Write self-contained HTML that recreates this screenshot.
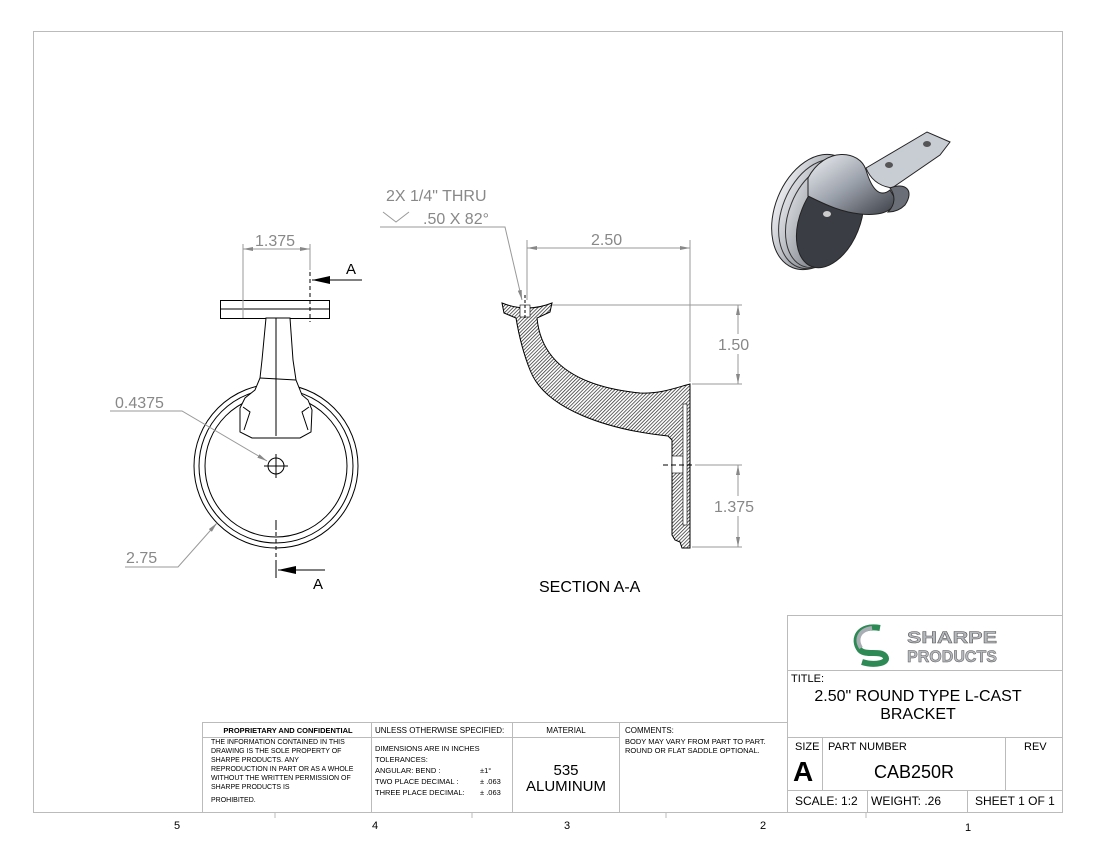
<!DOCTYPE html>
<html><head><meta charset="utf-8"><style>
html,body{margin:0;padding:0;background:#fff}
svg{display:block}
text{font-family:"Liberation Sans",sans-serif}
</style></head><body>
<svg width="1100" height="850" viewBox="0 0 1100 850" xmlns="http://www.w3.org/2000/svg">
<defs>
<pattern id="h" width="2.5" height="2.5" patternUnits="userSpaceOnUse" patternTransform="rotate(45)">
<rect width="2.5" height="2.5" fill="#fff"/><line x1="0" y1="0" x2="0" y2="2.5" stroke="#222" stroke-width="1.4"/></pattern>
<linearGradient id="g1" x1="0" y1="0" x2="1" y2="1"><stop offset="0" stop-color="#f0f2f5"/><stop offset="0.5" stop-color="#9aa0aa"/><stop offset="1" stop-color="#3a3d44"/></linearGradient>
<linearGradient id="g2" x1="0" y1="0" x2="1" y2="0"><stop offset="0" stop-color="#e8eaee"/><stop offset="1" stop-color="#5b6068"/></linearGradient>
<marker id="a" viewBox="0 0 10 4" refX="10" refY="2" markerWidth="10" markerHeight="4" orient="auto-start-reverse" markerUnits="userSpaceOnUse"><path d="M0,0L10,2L0,4z" fill="#888"/></marker>
<marker id="ab" viewBox="0 0 18 8" refX="18" refY="4" markerWidth="18" markerHeight="8" orient="auto" markerUnits="userSpaceOnUse"><path d="M0,0L18,4L0,8z" fill="#000"/></marker>
</defs>
<rect x="33.5" y="31.5" width="1029" height="781" fill="none" stroke="#bbb"/>
<g stroke="#bbb"><line x1="275" y1="812" x2="275" y2="818"/><line x1="472" y1="812" x2="472" y2="818"/><line x1="666" y1="812" x2="666" y2="818"/><line x1="866" y1="812" x2="866" y2="818"/></g>
<g font-size="11" text-anchor="middle" fill="#000"><text x="177" y="829">5</text><text x="375" y="829">4</text><text x="567" y="829">3</text><text x="763" y="829">2</text><text x="968" y="831">1</text></g>

<g fill="none" stroke="#bbb">
<rect x="787.5" y="615.5" width="275" height="197"/>
<line x1="787" y1="670.5" x2="1062" y2="670.5"/>
<line x1="787" y1="737.5" x2="1062" y2="737.5"/>
<line x1="787" y1="790.5" x2="1062" y2="790.5"/>
<line x1="822.5" y1="737" x2="822.5" y2="790"/>
<line x1="1005.5" y1="737" x2="1005.5" y2="790"/>
<line x1="867.5" y1="790" x2="867.5" y2="812"/>
<line x1="967.5" y1="790" x2="967.5" y2="812"/>
<rect x="202.5" y="722.5" width="585" height="90"/>
<line x1="202" y1="737.5" x2="619" y2="737.5"/>
<line x1="371.5" y1="722" x2="371.5" y2="812"/>
<line x1="512.5" y1="722" x2="512.5" y2="812"/>
<line x1="619.5" y1="722" x2="619.5" y2="812"/>
</g>
<path d="M880,628 C858,624 852,640 860,650 C866,656 880,650 885,656 C890,663 875,666 862,662" fill="none" stroke="#2e8a55" stroke-width="6"/>
<path d="M872,628 C858,630 856,640 861,648" fill="none" stroke="#a8aeb4" stroke-width="4"/>
<g font-family="Liberation Sans" font-weight="bold" fill="#b5b8bc" stroke="#555" stroke-width="0.5" text-anchor="middle">
<text x="952" y="643" font-size="17" textLength="90" lengthAdjust="spacingAndGlyphs">SHARPE</text>
<text x="952" y="662" font-size="17" textLength="90" lengthAdjust="spacingAndGlyphs">PRODUCTS</text></g>
<g fill="#000">
<text x="791" y="682" font-size="11">TITLE:</text>
<text x="918" y="701" font-size="16" text-anchor="middle">2.50" ROUND TYPE L-CAST</text>
<text x="918" y="719" font-size="16" text-anchor="middle">BRACKET</text>
<text x="795" y="750" font-size="11">SIZE</text>
<text x="828" y="750" font-size="11">PART NUMBER</text>
<text x="1024" y="750" font-size="11">REV</text>
<text x="793" y="781" font-size="28" font-weight="bold">A</text>
<text x="914" y="778" font-size="18" text-anchor="middle">CAB250R</text>
<text x="795" y="805" font-size="12">SCALE: 1:2</text>
<text x="871" y="805" font-size="12">WEIGHT: .26</text>
<text x="975" y="805" font-size="12">SHEET 1 OF 1</text>
<text x="288" y="733" font-size="7.5" font-weight="bold" text-anchor="middle">PROPRIETARY AND CONFIDENTIAL</text>
<g font-size="7"><text x="211" y="744">THE INFORMATION CONTAINED IN THIS</text>
<text x="211" y="753">DRAWING IS THE SOLE PROPERTY OF</text>
<text x="211" y="762">SHARPE PRODUCTS.  ANY</text>
<text x="211" y="771">REPRODUCTION IN PART OR AS A WHOLE</text>
<text x="211" y="780">WITHOUT THE WRITTEN PERMISSION OF</text>
<text x="211" y="789">SHARPE PRODUCTS IS</text>
<text x="211" y="802">PROHIBITED.</text></g>
<text x="375" y="733" font-size="8">UNLESS OTHERWISE SPECIFIED:</text>
<g font-size="7.5"><text x="375" y="751">DIMENSIONS ARE IN INCHES</text>
<text x="375" y="762">TOLERANCES:</text>
<text x="375" y="773">ANGULAR: BEND :</text><text x="480" y="773">±1°</text>
<text x="375" y="784">TWO PLACE DECIMAL  :</text><text x="480" y="784">± .063</text>
<text x="375" y="795">THREE PLACE DECIMAL:</text><text x="480" y="795">± .063</text></g>
<text x="566" y="733" font-size="8" text-anchor="middle">MATERIAL</text>
<text x="566" y="775" font-size="15" text-anchor="middle">535</text>
<text x="566" y="791" font-size="15" text-anchor="middle">ALUMINUM</text>
<text x="625" y="733" font-size="8">COMMENTS:</text>
<text x="625" y="744" font-size="7.5">BODY MAY VARY FROM PART TO PART.</text>
<text x="625" y="753" font-size="7.5">ROUND OR FLAT SADDLE OPTIONAL.</text>
</g>

<g fill="none" stroke="#000" stroke-width="1">
<circle cx="276" cy="466" r="82"/>
<circle cx="276" cy="466" r="77"/>
<circle cx="276" cy="466" r="71"/>
<circle cx="276" cy="466" r="8" fill="#fff"/>
<line x1="264" y1="466" x2="288" y2="466"/><line x1="276" y1="454" x2="276" y2="478"/>
<rect x="220.5" y="300.5" width="109" height="18"/>
<line x1="221" y1="309" x2="329" y2="309"/>
<path d="M266,318 L290,318 L293,360 L296,380 L302,395 L308,400 L312,410 L311,432 L300,438 L252,438 L240,432 L240,408 L245,398 L255,390 L260,378 L262,360 Z" fill="#fff"/>
<path d="M260,378 L296,380"/>
<path d="M276,318 L276,436"/>
<path d="M243,407 L250,412 L244,430 M309,407 L302,412 L308,430"/>
<line x1="276" y1="520" x2="276" y2="530"/>
</g>
<g stroke="#000" stroke-dasharray="4,3" fill="none">
<line x1="310" y1="272" x2="310" y2="322"/>
<line x1="276" y1="532" x2="276" y2="578"/>
</g>
<line x1="362" y1="280" x2="312" y2="280" stroke="#000" marker-end="url(#ab)"/>
<line x1="325" y1="570" x2="278" y2="570" stroke="#000" marker-end="url(#ab)"/>
<line x1="276" y1="562" x2="276" y2="578" stroke="#000"/>
<text x="346" y="274" font-size="15">A</text>
<text x="313" y="589" font-size="15">A</text>
<g stroke="#999" fill="none">
<line x1="243" y1="244" x2="243" y2="318"/><line x1="310" y1="244" x2="310" y2="270"/>
<line x1="243" y1="249" x2="310" y2="249" marker-start="url(#a)" marker-end="url(#a)"/>
<polyline points="110,411 182,411 267,461" marker-end="url(#a)"/>
<polyline points="125,567 178,567 217,523" marker-end="url(#a)"/>
</g>
<g fill="#888" font-size="16"><text x="255" y="246">1.375</text>
<text x="115" y="408">0.4375</text><text x="126" y="563">2.75</text></g>

<path d="M502,303 Q527,313 552,303 L550,312 L537,318 C540,350 560,385 640,393 C660,394 675,388 690,384 L690,548 L682,548 L680,542 L675,540 L672,535 L672,440 L668,436 C610,430 545,410 530,370 C522,350 518,330 516,318 L504,313 Z" fill="url(#h)" stroke="#000"/>
<rect x="520" y="305" width="10" height="12" fill="#fff" stroke="#000" stroke-width="0.6"/>
<rect x="672" y="456" width="11" height="17" fill="#fff" stroke="#000" stroke-width="0.6"/>
<rect x="683" y="404" width="4" height="121" fill="#fff" stroke="#000" stroke-width="0.6"/>
<line x1="663" y1="465" x2="693" y2="465" stroke="#000" stroke-dasharray="5,3"/>
<line x1="525" y1="295" x2="525" y2="318" stroke="#000" stroke-dasharray="3,2"/>
<g stroke="#999" fill="none">
<line x1="527" y1="240" x2="527" y2="300"/><line x1="690" y1="240" x2="690" y2="382"/>
<line x1="527" y1="248" x2="690" y2="248" marker-start="url(#a)" marker-end="url(#a)"/>
<line x1="552" y1="305" x2="742" y2="305"/><line x1="692" y1="384" x2="742" y2="384"/>
<line x1="738" y1="305" x2="738" y2="384" marker-start="url(#a)" marker-end="url(#a)"/>
<line x1="695" y1="465" x2="742" y2="465"/><line x1="692" y1="547" x2="742" y2="547"/>
<line x1="738" y1="465" x2="738" y2="547" marker-start="url(#a)" marker-end="url(#a)"/>
<polyline points="380,227 505,227 522,300" marker-end="url(#a)"/>
<polyline points="383,212 396,222 409,212"/>
</g>
<g fill="#888" font-size="16">
<text x="591" y="245">2.50</text>
<rect x="717" y="334" width="42" height="20" fill="#fff"/><text x="718" y="350">1.50</text>
<rect x="713" y="496" width="50" height="20" fill="#fff"/><text x="714" y="512">1.375</text>
<text x="386" y="201">2X 1/4" THRU</text>
<text x="423" y="224">.50 X 82°</text></g>
<text x="539" y="592" font-size="16" fill="#000">SECTION A-A</text>

<!-- 3D VIEW -->
<g>
<ellipse cx="815" cy="212" rx="40" ry="60" transform="rotate(22 815 212)" fill="url(#g2)" stroke="#222"/>
<ellipse cx="819" cy="214" rx="37" ry="57" transform="rotate(22 819 214)" fill="none" stroke="#333"/>
<ellipse cx="823" cy="216" rx="34" ry="54" transform="rotate(22 823 216)" fill="none" stroke="#333"/>
<ellipse cx="830" cy="220" rx="30" ry="50" transform="rotate(22 830 220)" fill="#3a3d44" stroke="#222"/>
<path d="M808,178 C825,146 860,150 866,170 C872,190 880,198 890,190 L896,200 C893,212 880,216 860,214 C842,212 828,206 808,196 Z" fill="url(#g1)" stroke="#222"/>
<path d="M866,168 L927,132 L950,142 L940,155 L892,188 C878,186 870,178 866,168 Z" fill="#c8ccd3" stroke="#222"/>
<path d="M890,188 C905,182 915,190 905,205 C900,210 895,212 888,212 C895,205 896,196 890,188Z" fill="#6a6e76" stroke="#222"/>
<ellipse cx="889" cy="165" rx="4" ry="3" fill="#555"/><ellipse cx="927" cy="144" rx="4" ry="3" fill="#555"/>
<ellipse cx="827" cy="214" rx="4" ry="3" fill="#ccc"/>
</g>
</svg>
</body></html>
